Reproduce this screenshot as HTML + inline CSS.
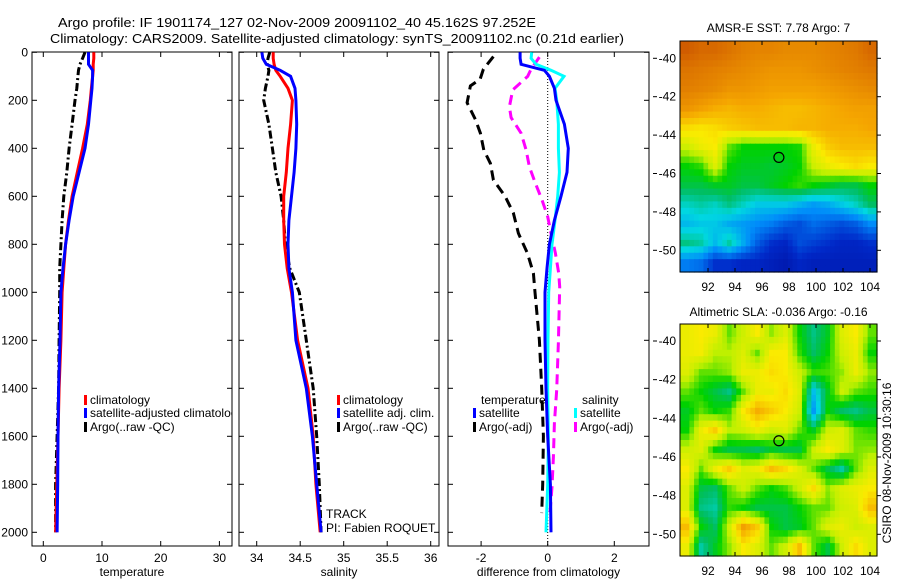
<!DOCTYPE html>
<html><head><meta charset="utf-8">
<style>
html,body{margin:0;padding:0;background:#fff;}
svg{display:block;font-family:"Liberation Sans",sans-serif;}
text{font-size:12px;fill:#000;}
</style></head>
<body>
<svg id="fig" width="900" height="580" viewBox="0 0 900 580">
  <defs><clipPath id="p1clip"><rect x="32" y="52" width="200" height="494"/></clipPath></defs>
  <text x="297" y="27" text-anchor="middle" style="font-size:13px" textLength="478" lengthAdjust="spacingAndGlyphs">Argo profile: IF 1901174_127 02-Nov-2009 20091102_40 45.162S 97.252E</text>
  <text x="337" y="43" text-anchor="middle" style="font-size:13px" textLength="574" lengthAdjust="spacingAndGlyphs">Climatology: CARS2009. Satellite-adjusted climatology: synTS_20091102.nc (0.21d earlier)</text>
  <g id="layer"></g>
</svg>
<script>
// ---- data ----
const depths = [0,25,50,75,100,150,200,300,400,500,600,700,800,900,1000,1200,1400,1600,1800,2000];
const tempClim = [8.6,8.6,8.5,8.5,8.4,8.2,8.0,7.5,6.7,5.8,4.9,4.3,3.8,3.5,3.2,3.0,2.7,2.5,2.3,2.1];
const tempSat  = [7.7,7.7,7.7,8.4,8.4,8.3,8.1,7.7,7.1,6.1,5.1,4.4,3.8,3.35,3.0,2.85,2.6,2.5,2.45,2.35];
const tempArgo = [7.1,6.7,6.25,6.0,5.9,5.7,5.4,4.9,4.4,4.0,3.5,3.2,3.0,2.8,2.8,2.7,2.6,2.35,2.1,2.1];
const salClim = [34.19,34.19,34.20,34.22,34.27,34.36,34.41,34.39,34.36,34.34,34.31,34.31,34.32,34.35,34.40,34.47,34.59,34.65,34.68,34.73];
const salSat  = [34.06,34.07,34.11,34.27,34.39,34.44,34.45,34.46,34.45,34.43,34.40,34.37,34.36,34.37,34.41,34.45,34.57,34.64,34.69,34.74];
const salArgo = [34.15,34.13,34.12,34.14,34.13,34.10,34.08,34.14,34.18,34.22,34.28,34.31,34.33,34.38,34.49,34.57,34.65,34.69,34.72,34.74];
const dTempSat = [-0.83,-0.83,-0.8,-0.1,0.05,0.2,0.25,0.5,0.62,0.58,0.4,0.2,0.05,-0.02,-0.08,-0.08,-0.05,0.0,0.08,0.1];
const dSalSat  = [-0.48,-0.5,-0.35,0.1,0.49,0.22,0.27,0.32,0.32,0.35,0.3,0.22,0.13,0.08,0.03,0.01,0.0,0.02,0.0,-0.05];
const diffArgoDepths = [18,70,112,140,210,280,337,407,463,532,600,670,754,837,920,1000,1200,1400,1600,1800,1920];
const dTempArgo = [-1.63,-1.93,-2.03,-2.32,-2.42,-2.17,-2.02,-1.92,-1.72,-1.63,-1.28,-1.03,-0.88,-0.61,-0.43,-0.38,-0.25,-0.18,-0.13,-0.15,-0.18];
const salDiffArgoDepths = [20,70,100,157,227,272,337,407,477,546,615,685,754,837,920,977,1207,1407,1545,1686,1811,1920];
const dSalArgo = [-0.25,-0.5,-0.6,-1.05,-1.15,-1.1,-0.8,-0.65,-0.55,-0.37,-0.17,0.0,0.1,0.23,0.33,0.36,0.32,0.27,0.2,0.17,0.13,0.07];
const depthTicks = [0,200,400,600,800,1000,1200,1400,1600,1800,2000];
const tempTicks = [0,10,20,30];
const salTicks = [34,34.5,35,35.5,36];
const diffTicks = [-2,0,2];
const lonTicks = [92,94,96,98,100,102,104];
const latTicks = [-40,-42,-44,-46,-48,-50];
const argoLon = 97.252, argoLat = -45.162;
const sstGrid = [
[.90,.88,.88,.86,.84,.83,.83,.82,.82,.82,.83,.84,.85,.88],
[.86,.85,.84,.83,.82,.81,.80,.80,.80,.81,.82,.83,.84,.85],
[.84,.83,.82,.80,.80,.79,.78,.78,.78,.78,.79,.80,.81,.82],
[.80,.78,.76,.75,.76,.76,.75,.74,.74,.75,.76,.77,.78,.78],
[.70,.69,.70,.72,.73,.74,.74,.74,.75,.75,.76,.76,.76,.77],
[.62,.66,.68,.56,.52,.52,.52,.52,.53,.66,.72,.74,.74,.74],
[.52,.54,.64,.52,.50,.50,.49,.50,.52,.62,.66,.68,.70,.68],
[.48,.48,.50,.50,.48,.48,.50,.52,.54,.52,.50,.48,.48,.52],
[.40,.42,.40,.44,.40,.36,.36,.36,.33,.30,.32,.36,.40,.46],
[.34,.36,.36,.32,.30,.28,.26,.22,.20,.24,.22,.20,.22,.28],
[.44,.42,.34,.42,.32,.22,.16,.14,.20,.18,.16,.14,.14,.16],
[.26,.24,.16,.16,.14,.14,.12,.10,.14,.12,.12,.12,.12,.12]];
const slaGrid = [
[.66,.68,.66,.56,.62,.68,.58,.64,.52,.44,.50,.64,.68,.56],
[.66,.67,.60,.60,.64,.56,.68,.68,.54,.46,.52,.62,.66,.52],
[.64,.56,.56,.58,.66,.66,.70,.68,.62,.54,.55,.58,.66,.58],
[.56,.52,.48,.44,.56,.66,.66,.70,.64,.35,.50,.62,.56,.54],
[.50,.56,.52,.54,.68,.76,.72,.68,.62,.30,.52,.46,.44,.48],
[.52,.66,.72,.60,.62,.66,.62,.64,.56,.50,.62,.64,.56,.54],
[.62,.64,.52,.48,.48,.46,.50,.48,.48,.62,.68,.64,.57,.58],
[.68,.56,.66,.72,.64,.66,.74,.70,.64,.56,.48,.42,.56,.64],
[.64,.48,.46,.56,.62,.56,.52,.55,.62,.70,.58,.64,.66,.68],
[.64,.44,.42,.54,.52,.48,.48,.48,.52,.56,.56,.62,.64,.74],
[.74,.52,.46,.62,.78,.72,.52,.48,.50,.56,.64,.66,.62,.64],
[.66,.42,.50,.58,.68,.64,.56,.62,.74,.56,.48,.62,.70,.64]];

// ---- helpers ----
const NS = "http://www.w3.org/2000/svg";
const layer = document.getElementById('layer');
function mk(tag, attrs, parent){ const e=document.createElementNS(NS,tag); for(const k in attrs) e.setAttribute(k,attrs[k]); (parent||layer).appendChild(e); return e; }
const Y0 = 52.3, YS = 0.24;
function yD(d){ return Y0 + d*YS; }
const panels = {
  temp:{x0:32,x1:232, sx:v=>43.3+5.87*v},
  sal:{x0:239,x1:439, sx:v=>256.7+87*(v-34)},
  diff:{x0:448,x1:649, sx:v=>547.7+33.3*v}
};
const PT=52, PB=546;
function drawLine(p, ds, vs, color, dash, name){
  let pts = ds.map((d,i)=>p.sx(vs[i]).toFixed(1)+','+yD(d).toFixed(1)).join(' ');
  const a = {points:pts, fill:'none', stroke:color, 'stroke-width':3, 'stroke-linejoin':'miter'};
  if(dash) a['stroke-dasharray']=dash;
  const e = mk('polyline', a);
  
  
}
function frame(p, ticks, label, name, ylabels){
  const r = mk('rect',{x:p.x0,y:PT,width:p.x1-p.x0,height:PB-PT,fill:'none',stroke:'#000','stroke-width':1});
  
  
  ticks.forEach(t=>{
    const x=p.sx(t);
    mk('line',{x1:x,y1:PB,x2:x,y2:PB-5,stroke:'#000'});
    mk('line',{x1:x,y1:PT,x2:x,y2:PT+5,stroke:'#000'});
    const tx = mk('text',{x:x,y:PB+16,'text-anchor':'middle'}); tx.textContent = String(t);
    
    
  });
  depthTicks.forEach(d=>{
    const y=yD(d);
    mk('line',{x1:p.x0,y1:y,x2:p.x0+5,y2:y,stroke:'#000'});
    mk('line',{x1:p.x1,y1:y,x2:p.x1-5,y2:y,stroke:'#000'});
    if(ylabels){ const t=mk('text',{x:p.x0-4,y:y+4,'text-anchor':'end'}); t.textContent=String(d);
      
       }
  });
  const l = mk('text',{x:(p.x0+p.x1)/2,y:576,'text-anchor':'middle'}); l.textContent = label;
  
  
}
function legendItem(x,y,color,txt,name,clip){
  const m = mk('rect',{x:x,y:y-9,width:3,height:10,fill:color});
  
  
  const t = mk('text',{x:x+6,y:y}); t.textContent = txt;
  if(clip) t.setAttribute('clip-path','url(#p1clip)');
  
  
}

// ---- profile panels ----
frame(panels.temp, tempTicks, 'temperature', 'temperature-panel', true);
frame(panels.sal, salTicks, 'salinity', 'salinity-panel', false);
frame(panels.diff, diffTicks, 'difference from climatology', 'difference-panel', false);
mk('line',{x1:panels.diff.sx(0),y1:PT,x2:panels.diff.sx(0),y2:PB,stroke:'#000','stroke-dasharray':'1,2'});

drawLine(panels.temp, depths, tempArgo, '#000', '8,3,2,3', 'temperature-argo-line');
drawLine(panels.temp, depths, tempClim, '#ff0000', null, 'temperature-climatology-line');
drawLine(panels.temp, depths, tempSat, '#0000ff', null, 'temperature-satellite-line');
drawLine(panels.sal, depths, salArgo, '#000', '8,3,2,3', 'salinity-argo-line');
drawLine(panels.sal, depths, salClim, '#ff0000', null, 'salinity-climatology-line');
drawLine(panels.sal, depths, salSat, '#0000ff', null, 'salinity-satellite-line');
drawLine(panels.diff, diffArgoDepths, dTempArgo, '#000', '10,6', 'temperature-argo-diff-line');
drawLine(panels.diff, salDiffArgoDepths, dSalArgo, '#ff00ff', '10,6', 'salinity-argo-diff-line');
drawLine(panels.diff, depths, dSalSat, '#00ffff', null, 'salinity-satellite-diff-line');
drawLine(panels.diff, depths, dTempSat, '#0000ff', null, 'temperature-satellite-diff-line');

// legends
legendItem(84,404,'#ff0000','climatology','legend-climatology',true);
legendItem(84,417,'#0000ff','satellite-adjusted climatology','legend-satellite-adjusted',true);
legendItem(84,431,'#000','Argo(..raw -QC)','legend-argo',true);
legendItem(337,404,'#ff0000','climatology','legend2-climatology');
legendItem(337,417,'#0000ff','satellite adj. clim.','legend2-satellite');
legendItem(337,431,'#000','Argo(..raw -QC)','legend2-argo');
(function(){const t=mk('text',{x:481,y:404}); t.textContent='temperature';
  
 const s=mk('text',{x:582,y:404}); s.textContent='salinity';
  })();
legendItem(473,417,'#0000ff','satellite','legend-temp-satellite');
legendItem(473,431,'#000','Argo(-adj)','legend-temp-argo');
legendItem(574,417,'#00ffff','satellite','legend-sal-satellite');
legendItem(574,431,'#ff00ff','Argo(-adj)','legend-sal-argo');
(function(){const t=mk('text',{x:326,y:518}); t.textContent='TRACK';
  
 const p=mk('text',{x:326,y:532}); p.textContent='PI: Fabien ROQUET';
  })();

// ---- maps ----
const cmapStops = [
 [0.00,[0,0,130]],[0.15,[0,40,200]],[0.28,[0,140,250]],[0.38,[0,215,225]],
 [0.46,[0,190,100]],[0.52,[0,210,0]],[0.60,[190,240,0]],[0.68,[250,235,0]],
 [0.77,[245,165,0]],[0.88,[215,105,0]],[1.00,[170,30,0]]];
function jet(v){
  v=Math.max(0,Math.min(1,v));
  for(let k=1;k<cmapStops.length;k++){
    const a=cmapStops[k-1], b=cmapStops[k];
    if(v<=b[0]){ const t=(v-a[0])/(b[0]-a[0]);
      return 'rgb('+a[1].map((c,i)=>Math.round(c+(b[1][i]-c)*t)).join(',')+')'; }
  }
  return 'rgb(170,30,0)';
}
const MX0=680, MX1=877;
const lonX = lon => 708 + (lon-92)*13.5;
function sample(grid, fy, fx){
  const rows=grid.length, cols=grid[0].length;
  fy=Math.max(0,Math.min(rows-1,fy)); fx=Math.max(0,Math.min(cols-1,fx));
  const i0=Math.floor(fy), j0=Math.floor(fx), i1=Math.min(rows-1,i0+1), j1=Math.min(cols-1,j0+1);
  const ty=fy-i0, tx=fx-j0;
  return (grid[i0][j0]*(1-tx)+grid[i0][j1]*tx)*(1-ty)+(grid[i1][j0]*(1-tx)+grid[i1][j1]*tx)*ty;
}
function drawMap(grid, top, bottom, latY, title, titleY, name){
  const rows=grid.length, cols=grid[0].length, S=3;
  const cw=(MX1-MX0)/(cols*S), ch=(bottom-top)/(rows*S);
  for(let i=0;i<rows*S;i++) for(let j=0;j<cols*S;j++){
    const v = sample(grid, (i+0.5)/S-0.5, (j+0.5)/S-0.5);
    const c = mk('rect',{x:(MX0+j*cw).toFixed(2),y:(top+i*ch).toFixed(2),width:(cw+0.6).toFixed(2),height:(ch+0.6).toFixed(2),fill:jet(v)});
    
    
  }
  const f = mk('rect',{x:MX0,y:top,width:MX1-MX0,height:bottom-top,fill:'none',stroke:'#000'});
  
  
  lonTicks.forEach(l=>{ const x=lonX(l);
    mk('line',{x1:x,y1:bottom,x2:x,y2:bottom-4,stroke:'#000'});
    mk('line',{x1:x,y1:top,x2:x,y2:top+4,stroke:'#000'});
    const t=mk('text',{x:x,y:bottom+19,'text-anchor':'middle'}); t.textContent=String(l);
     
  });
  latTicks.forEach(l=>{ const y=latY(l);
    mk('line',{x1:MX1,y1:y,x2:MX1+4,y2:y,stroke:'#000'});
    mk('line',{x1:653,y1:y,x2:657,y2:y,stroke:'#000'});
    const t=mk('text',{x:676,y:y+4,'text-anchor':'end'}); t.textContent=String(l);
     
  });
  const c = mk('circle',{cx:lonX(argoLon),cy:latY(argoLat),r:5,fill:'none',stroke:'#000','stroke-width':1.2});
  
  
  const tt = mk('text',{x:(MX0+MX1)/2,y:titleY,'text-anchor':'middle'}); tt.textContent=title;
   
}
drawMap(sstGrid, 41, 272, l=>58.3+(-40-l)*19.2, 'AMSR-E SST: 7.78 Argo: 7', 32, 'sst-map');
drawMap(slaGrid, 324, 556, l=>341+(-40-l)*19.33, 'Altimetric SLA: -0.036 Argo: -0.16', 316, 'sla-map');
(function(){const t=mk('text',{x:891,y:463,'text-anchor':'middle',transform:'rotate(-90 891 463)'});
 t.textContent='CSIRO 08-Nov-2009 10:30:16';
  })();
</script>
</body></html>
